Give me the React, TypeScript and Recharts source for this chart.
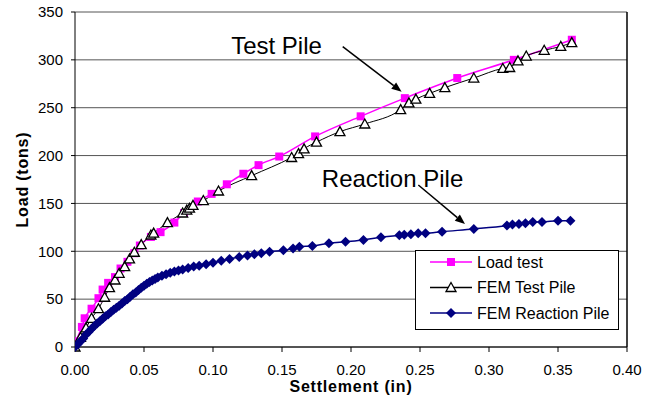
import {
  LineChart,
  Line,
  XAxis,
  YAxis,
  CartesianGrid,
  ReferenceLine,
  ReferenceDot,
  Legend,
} from 'recharts'

// [settlement (in), load (tons)]
const loadTest: [number, number][] = [
  [0, 0], [0.001, 6], [0.005, 21], [0.007, 30], [0.012, 40], [0.017, 51], [0.02, 60],
  [0.024, 67], [0.029, 73], [0.033, 82], [0.038, 89], [0.043, 98], [0.047, 106],
  [0.055, 115], [0.062, 120], [0.072, 130], [0.079, 140], [0.089, 152], [0.099, 160],
  [0.11, 170], [0.122, 181], [0.133, 190], [0.148, 199], [0.174, 220], [0.207, 241],
  [0.239, 260], [0.277, 281], [0.318, 300], [0.36, 321],
]

const femTestPile: [number, number][] = [
  [0, 0], [0.004, 10], [0.008, 20], [0.012, 30], [0.017, 40], [0.0215, 52], [0.025, 62],
  [0.029, 70], [0.032, 77], [0.036, 84], [0.0395, 92], [0.043, 99], [0.048, 107],
  [0.055, 117], [0.057, 119], [0.067, 130], [0.078, 140], [0.081, 143], [0.083, 145],
  [0.0855, 148], [0.093, 153], [0.104, 163], [0.128, 179], [0.157, 198], [0.162, 202],
  [0.166, 207], [0.175, 214], [0.192, 225], [0.21, 233], [0.236, 248], [0.242, 255],
  [0.247, 259], [0.257, 265], [0.268, 271], [0.289, 281], [0.31, 291], [0.315, 292],
  [0.321, 299], [0.327, 304], [0.34, 310], [0.352, 314], [0.36, 318],
]

const femReactionPile: [number, number][] = [
  [0, 0], [0.002, 3], [0.004, 6], [0.006, 9], [0.008, 13], [0.01, 16], [0.012, 19],
  [0.014, 22], [0.016, 24.5], [0.018, 27], [0.02, 29.5], [0.022, 32], [0.024, 34],
  [0.026, 36.5], [0.028, 39], [0.03, 41], [0.032, 43], [0.034, 45.5], [0.036, 48],
  [0.038, 50], [0.04, 52.5], [0.042, 55], [0.044, 57], [0.046, 59.5], [0.048, 62],
  [0.05, 64], [0.052, 66], [0.054, 68], [0.056, 69.5], [0.058, 71], [0.06, 72.5],
  [0.063, 74.5], [0.066, 76], [0.069, 77.5], [0.072, 79], [0.075, 80], [0.078, 81],
  [0.082, 82.5], [0.086, 84], [0.09, 85], [0.095, 86.5], [0.1, 88], [0.106, 90],
  [0.112, 92], [0.119, 94], [0.125, 95.5], [0.13, 97], [0.135, 98], [0.141, 99.5],
  [0.151, 101], [0.158, 103], [0.1626, 104.8], [0.172, 105.5], [0.184, 108.4],
  [0.196, 110], [0.209, 111.8], [0.2217, 114.6], [0.235, 116.7], [0.2386, 117.4],
  [0.2434, 117.7], [0.2487, 118.8], [0.254, 118.8], [0.266, 120.5], [0.289, 123.3],
  [0.313, 127], [0.317, 127.9], [0.3217, 128.5], [0.3264, 129.3], [0.3317, 130.6],
  [0.3384, 130.6], [0.35, 132], [0.359, 132],
]

const xTicks = [0, 0.05, 0.1, 0.15, 0.2, 0.25, 0.3, 0.35, 0.4]
const yTicks = [0, 50, 100, 150, 200, 250, 300, 350]

// annotations: [x, y] in data units
const testPileLabel: [number, number] = [0.146, 306.6]
const reactionPileLabel: [number, number] = [0.2301, 167.5]
const testPileArrow: [number, number][] = [[0.194, 313.8], [0.2367, 266.7]]
const reactionPileArrow: [number, number][] = [[0.2488, 169.3], [0.2826, 128.5]]

const toRows = (pts: [number, number][]) => pts.map(([x, y]) => ({ x, y }))

const PINK = '#ff00ff'
const NAVY = '#000080'
const FONT = '"Liberation Sans", Arial, sans-serif'

function Square({ cx, cy }: any) {
  if (cx == null || cy == null) return null
  return <rect x={cx - 4} y={cy - 4} width={8} height={8} fill={PINK} />
}

function Triangle({ cx, cy }: any) {
  if (cx == null || cy == null) return null
  return (
    <polygon
      points={`${cx},${cy - 5} ${cx - 5},${cy + 4} ${cx + 5},${cy + 4}`}
      fill="#fff"
      stroke="#000"
      strokeWidth={1.3}
    />
  )
}

function Diamond({ cx, cy }: any) {
  if (cx == null || cy == null) return null
  return (
    <polygon
      points={`${cx},${cy - 5} ${cx + 5},${cy} ${cx},${cy + 5} ${cx - 5},${cy}`}
      fill={NAVY}
    />
  )
}

function Arrow(props: any) {
  const { x1, y1, x2, y2 } = props
  if ([x1, y1, x2, y2].some((v) => v == null)) return null
  const a = Math.atan2(y2 - y1, x2 - x1)
  const len = 10
  const w = 4
  const bx = x2 - len * Math.cos(a)
  const by = y2 - len * Math.sin(a)
  const px = -Math.sin(a) * w
  const py = Math.cos(a) * w
  return (
    <g>
      <line x1={x1} y1={y1} x2={bx} y2={by} stroke="#000" strokeWidth={1.5} />
      <polygon points={`${x2},${y2} ${bx + px},${by + py} ${bx - px},${by - py}`} fill="#000" />
    </g>
  )
}

const noteText = (text: string) => (props: any) => (
  <text x={props.cx} y={props.cy} textAnchor="middle" fontSize={24} fontFamily={FONT} fill="#000">
    {text}
  </text>
)

const legendItems = [
  { name: 'Load test', color: PINK, Marker: Square },
  { name: 'FEM Test Pile', color: '#000', Marker: Triangle },
  { name: 'FEM Reaction Pile', color: NAVY, Marker: Diamond },
]

function LegendBox() {
  return (
    <svg width={204} height={80} style={{ display: 'block' }}>
      <rect x={0.5} y={0.5} width={203} height={79} fill="#fff" stroke="#000" />
      {legendItems.map(({ name, color, Marker }, i) => {
        const y = 12 + i * 25.5
        return (
          <g key={name}>
            <line x1={15} y1={y} x2={57} y2={y} stroke={color} strokeWidth={1.5} />
            <Marker cx={36} cy={y} />
            <text x={62} y={y + 5.5} fontSize={16} fontFamily={FONT} fill="#000">
              {name}
            </text>
          </g>
        )
      })}
    </svg>
  )
}

export default function App() {
  return (
    <div style={{ position: 'absolute', left: 0, top: 0, background: '#fff' }}>
      <LineChart
        width={655}
        height={402}
        margin={{ top: 12, right: 28, bottom: 0, left: 0 }}
        style={{ fontFamily: FONT }}
      >
        <CartesianGrid horizontal vertical={false} stroke="#555" strokeOpacity={1} />
        <XAxis
          type="number"
          dataKey="x"
          domain={[0, 0.4]}
          ticks={xTicks}
          tickFormatter={(v: number) => v.toFixed(2)}
          tick={{ fontSize: 15, fill: '#000' }}
          axisLine={{ stroke: '#000' }}
          tickLine={{ stroke: '#000' }}
          tickSize={5}
          tickMargin={12}
          height={55}
          allowDataOverflow
          label={{
            value: 'Settlement (in)',
            position: 'insideBottom',
            offset: 10,
            style: { fontSize: 16, fontWeight: 'bold', fill: '#000', letterSpacing: 0.8 },
          }}
        />
        <YAxis
          type="number"
          domain={[0, 350]}
          ticks={yTicks}
          tick={{ fontSize: 15, fill: '#000' }}
          axisLine={{ stroke: '#000' }}
          tickLine={{ stroke: '#000' }}
          tickSize={4}
          tickMargin={8}
          width={75}
          label={{
            value: 'Load (tons)',
            angle: -90,
            position: 'insideLeft',
            offset: 22,
            style: {
              fontSize: 16,
              fontWeight: 'bold',
              fill: '#000',
              textAnchor: 'middle',
              letterSpacing: 0.8,
            },
          }}
        />
        <ReferenceLine x={0.4} stroke="#000" strokeWidth={1.5} />
        <Line
          data={toRows(loadTest)}
          dataKey="y"
          name="Load test"
          type="monotone"
          stroke={PINK}
          strokeWidth={1.5}
          dot={(p: any) => <Square key={p.index} {...p} />}
          isAnimationActive={false}
        />
        <Line
          data={toRows(femTestPile)}
          dataKey="y"
          name="FEM Test Pile"
          type="monotone"
          stroke="#000"
          strokeWidth={1}
          dot={(p: any) => <Triangle key={p.index} {...p} />}
          isAnimationActive={false}
        />
        <Line
          data={toRows(femReactionPile)}
          dataKey="y"
          name="FEM Reaction Pile"
          type="monotone"
          stroke={NAVY}
          strokeWidth={1.5}
          dot={(p: any) => <Diamond key={p.index} {...p} />}
          isAnimationActive={false}
        />
        <ReferenceLine
          segment={testPileArrow.map(([x, y]) => ({ x, y }))}
          shape={(p: any) => <Arrow {...p} />}
        />
        <ReferenceLine
          segment={reactionPileArrow.map(([x, y]) => ({ x, y }))}
          shape={(p: any) => <Arrow {...p} />}
        />
        <ReferenceDot x={testPileLabel[0]} y={testPileLabel[1]} r={0} shape={noteText('Test Pile')} />
        <ReferenceDot
          x={reactionPileLabel[0]}
          y={reactionPileLabel[1]}
          r={0}
          shape={noteText('Reaction Pile')}
        />
        <Legend
          layout="horizontal"
          verticalAlign="middle"
          align="center"
          content={() => <LegendBox />}
          wrapperStyle={{ position: 'absolute', left: 415, top: 250, width: 204, height: 80 }}
        />
      </LineChart>
    </div>
  )
}
